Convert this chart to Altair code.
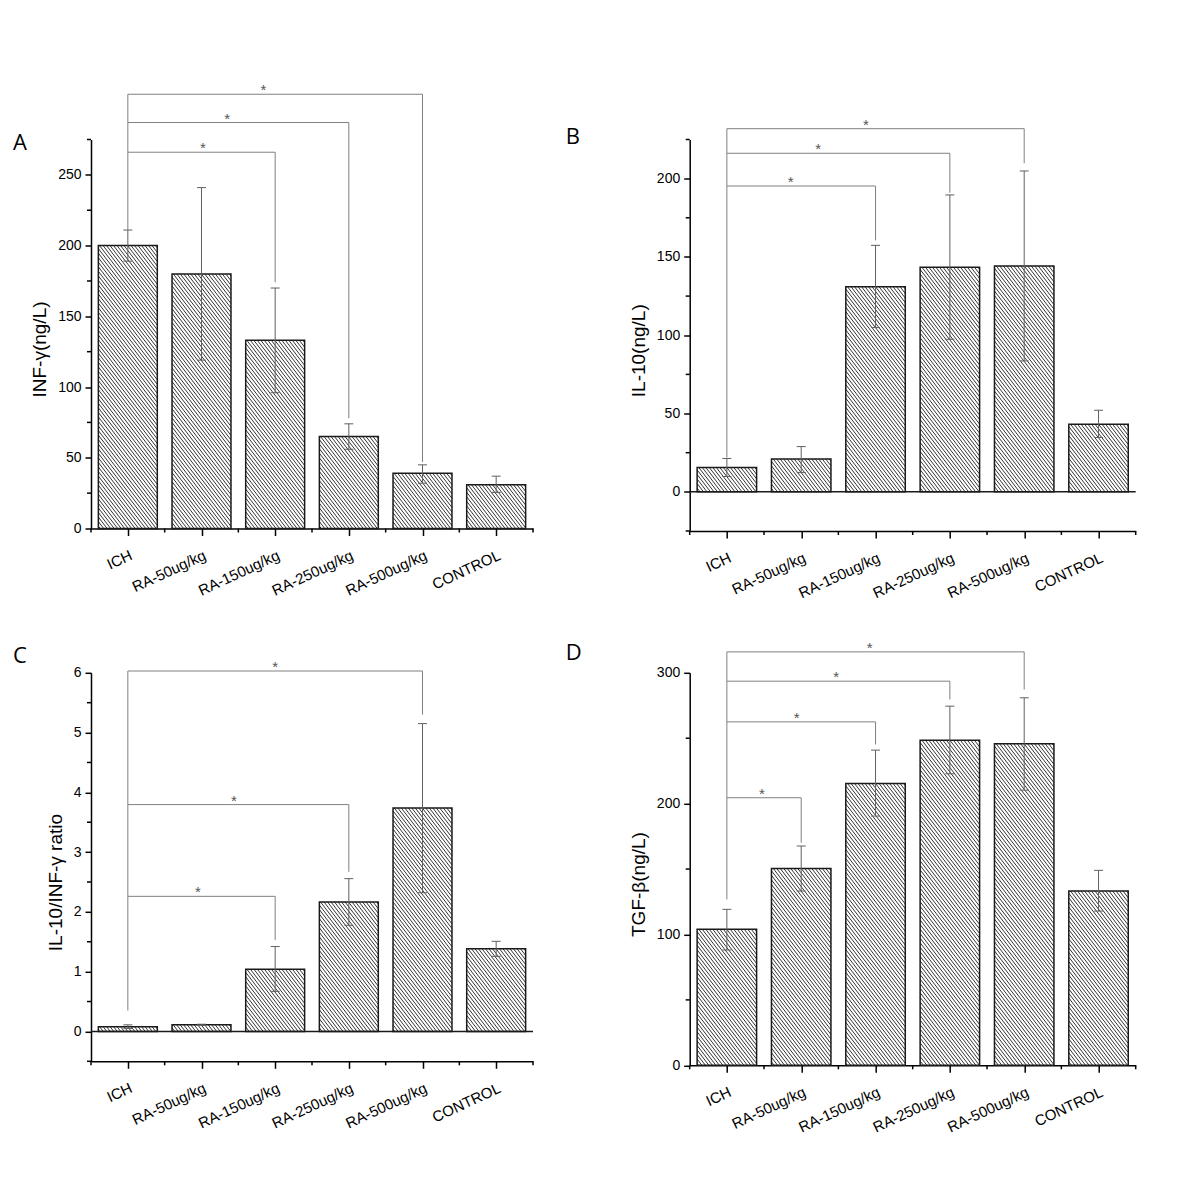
import json
import altair as alt
import pandas as pd

categories = ["ICH", "RA-50ug/kg", "RA-150ug/kg", "RA-250ug/kg", "RA-500ug/kg", "CONTROL"]

# Panel A: INF-gamma
a_mean = [200, 180, 133, 65, 39, 31]
a_hi = [211, 241, 170, 74, 45, 37]
a_lo = [189, 119, 96, 56, 32, 25.5]
a_targets = [2, 3, 4]
a_levels = [266, 287, 307]
a_ends = [174, 78, 47]
a_star_pos = [0.51, 0.45, 0.46]
a_start = 211

# Panel B: IL-10
b_mean = [15.5, 21, 131, 143.5, 144.3, 43.2]
b_hi = [21.3, 28.9, 157.4, 189.6, 204.9, 52.1]
b_lo = [9.8, 12.3, 104.9, 97.4, 83.6, 34.7]
b_targets = [2, 3, 4]
b_levels = [195.3, 216.2, 231.9]
b_ends = [160.6, 191, 209.8]
b_star_pos = [0.43, 0.41, 0.468]
b_start = 21.9

# Panel C: IL-10 / INF-gamma ratio
c_mean = [0.08, 0.11, 1.04, 2.165, 3.74, 1.385]
c_hi = [0.11, 0.12, 1.42, 2.556, 5.15, 1.507]
c_lo = [0.05, 0.10, 0.67, 1.775, 2.32, 1.256]
c_targets = [2, 3, 4]
c_levels = [2.26, 3.795, 6.03]
c_ends = [1.53, 2.67, 5.3]
c_star_pos = [0.476, 0.48, 0.5]
c_start = 0.35

# Panel D: TGF-beta
d_mean = [103.9, 150.5, 215.4, 248.5, 245.7, 133.2]
d_hi = [119.2, 167.6, 240.9, 274.5, 280.9, 149]
d_lo = [88.1, 133.2, 190.5, 222.8, 210.3, 117.9]
d_targets = [1, 2, 3, 4]
d_levels = [204.5, 262.5, 293.6, 316]
d_ends = [170.1, 245.2, 279.6, 287.2]
d_star_pos = [0.47, 0.47, 0.49, 0.48]
d_start = 126.8

FONT = "Liberation Sans"
HATCH_SX = 3.5   # horizontal hatch spacing (px)
HATCH_T = 1.3    # hatch slope


def make_panel(letter, title, mean, hi, lo, targets, levels, ends, star_pos, start,
               ymin, ymax, major, minor, w, h, zero_line, lx, ly):
    n = len(categories)
    bars = pd.DataFrame({"idx": list(range(n)), "cat": categories,
                         "mean": mean, "hi": hi, "lo": lo})
    xscale = alt.Scale(domain=[-0.5, n - 0.5], nice=False, zero=False)
    yscale = alt.Scale(domain=[ymin, ymax], nice=False, zero=False)
    label_expr = f"{json.dumps(categories)}[datum.value]"
    xaxis = alt.Axis(values=list(range(n)), labelExpr=label_expr, title=None,
                     labelAngle=335, tickSize=7, labelPadding=12, labelFontSize=15,
                     labelOverlap=False, labelBound=False, grid=False)
    yaxis = alt.Axis(values=major, title=title, titleY=h / 2 + 15, titlePadding=8,
                     tickSize=6, labelPadding=4, labelFontSize=14, labelOverlap=False,
                     grid=False)

    def X(f):
        return alt.X(f, scale=xscale, axis=xaxis)

    def Y(f):
        return alt.Y(f, scale=yscale, axis=yaxis)

    base = alt.Chart(bars).transform_calculate(x0="datum.idx - 0.4", x1="datum.idx + 0.4")
    PX = w / n
    PY = h / (ymax - ymin)
    W = 0.8 * PX
    t = HATCH_T
    d = HATCH_SX * t
    Wt = W * t

    hatch = (
        base.transform_calculate(H=f"datum.mean*{PY:.5f}")
        .transform_calculate(ks=f"sequence(0, ceil(({Wt:.4f} + datum.H)/{d:.4f}))")
        .transform_flatten(["ks"], as_=["k"])
        .transform_calculate(c=f"-{Wt:.4f} + (datum.k + 0.5)*{d:.4f}")
        .transform_calculate(u1=f"max(0, -datum.c/{t})")
        .transform_calculate(u2=f"min({W:.4f}, (datum.H - datum.c)/{t})")
        .transform_filter("datum.u2 > datum.u1")
        .transform_calculate(hx1=f"datum.idx - 0.4 + datum.u1/{PX:.5f}")
        .transform_calculate(hx2=f"datum.idx - 0.4 + datum.u2/{PX:.5f}")
        .transform_calculate(hy1=f"datum.mean - (datum.u1*{t} + datum.c)/{PY:.5f}")
        .transform_calculate(hy2=f"datum.mean - (datum.u2*{t} + datum.c)/{PY:.5f}")
        .mark_rule(color="#353535", strokeWidth=1)
        .encode(x=X("hx1:Q"), x2="hx2:Q", y=Y("hy1:Q"), y2="hy2:Q")
    )

    rects = (
        base.mark_rect(fillOpacity=0, stroke="#1a1a1a", strokeWidth=1.5)
        .encode(x=X("x0:Q"), x2="x1:Q", y=Y("mean:Q"), y2=alt.datum(0))
    )

    cap = 4.5 / PX
    err = base.mark_rule(color="#606060", strokeWidth=1).encode(
        x=X("idx:Q"), y=Y("lo:Q"), y2="hi:Q")
    caps = []
    for f in ["hi", "lo"]:
        caps.append(
            base.transform_calculate(c0=f"datum.idx - {cap:.4f}", c1=f"datum.idx + {cap:.4f}")
            .mark_rule(color="#606060", strokeWidth=1)
            .encode(x=X("c0:Q"), x2="c1:Q", y=Y(f"{f}:Q"))
        )

    segs = {"sx": [0], "sx2": [0], "sy": [start], "sy2": [max(levels)]}
    for tg, lv, en in zip(targets, levels, ends):
        segs["sx"] += [0, tg]
        segs["sx2"] += [tg, tg]
        segs["sy"] += [lv, en]
        segs["sy2"] += [lv, lv]
    brackets = alt.Chart(pd.DataFrame(segs)).mark_rule(color="#808080", strokeWidth=1).encode(
        x=X("sx:Q"), x2="sx2:Q", y=Y("sy:Q"), y2="sy2:Q")

    stars_df = pd.DataFrame({"px": [p * tg for p, tg in zip(star_pos, targets)],
                             "py": levels})
    stars = alt.Chart(stars_df).mark_text(text="*", font=FONT, fontSize=15, color="#555555",
                                          baseline="alphabetic", dy=1).encode(
        x=X("px:Q"), y=Y("py:Q"))

    minor_y = alt.Chart(pd.DataFrame({"m": minor})).mark_rule(color="black", strokeWidth=1.5).encode(
        y=Y("m:Q"), x=alt.value(-4), x2=alt.value(0))
    bounds_df = pd.DataFrame({"b": [i - 0.5 for i in range(n + 1)]})
    minor_x = alt.Chart(bounds_df).mark_rule(color="black", strokeWidth=1.5).encode(
        x=X("b:Q"), y=alt.value(h), y2=alt.value(h + 4))

    letter_mark = alt.Chart(pd.DataFrame({"t": [letter]})).mark_text(
        align="left", baseline="alphabetic", font="Open Sans", fontSize=22, color="black").encode(
        text="t:N", x=alt.value(lx), y=alt.value(ly))

    layers = [hatch, rects, err] + caps + [brackets, stars, minor_y, minor_x, letter_mark]
    if zero_line:
        zero = alt.Chart(pd.DataFrame({"z": [0]})).mark_rule(color="#1a1a1a", strokeWidth=1.5).encode(
            y=Y("z:Q"), x=alt.value(0), x2=alt.value(w))
        layers.append(zero)
    return alt.layer(*layers).properties(width=w, height=h)


pA = make_panel("A", "INF-γ(ng/L)", a_mean, a_hi, a_lo, a_targets, a_levels, a_ends,
                a_star_pos, a_start, 0, 275, [0, 50, 100, 150, 200, 250],
                [25, 75, 125, 175, 225, 275], 442, 389, False, -78, 10)
pB = make_panel("B", "IL-10(ng/L)", b_mean, b_hi, b_lo, b_targets, b_levels, b_ends,
                b_star_pos, b_start, -25, 225, [0, 50, 100, 150, 200],
                [-25, 25, 75, 125, 175, 225], 446, 391.5, True, -124, 4)
pC = make_panel("C", "IL-10/INF-γ ratio", c_mean, c_hi, c_lo, c_targets, c_levels, c_ends,
                c_star_pos, c_start, -0.5, 6, [0, 1, 2, 3, 4, 5, 6],
                [-0.5, 0.5, 1.5, 2.5, 3.5, 4.5, 5.5], 442, 388.5, True, -78, -10)
pD = make_panel("D", "TGF-β(ng/L)", d_mean, d_hi, d_lo, d_targets, d_levels, d_ends,
                d_star_pos, d_start, 0, 300, [0, 100, 200, 300],
                [50, 150, 250], 446, 392.5, False, -124, -13)

chart = (
    alt.concat(pA, pB, pC, pD, columns=2, spacing={"row": 141.3, "column": 156.7}, bounds="flush")
    .configure_view(stroke=None)
    .configure_axis(domainColor="black", domainWidth=1.5, tickColor="black", tickWidth=1.5,
                    labelColor="black", titleColor="black", labelFont=FONT, titleFont=FONT,
                    titleFontWeight="normal", titleFontSize=19)
    .properties(background="white", padding={"top": 74.5, "left": 5, "right": 5, "bottom": 5})
)

chart.save("out.html", embed_options={"renderer": "svg", "actions": False})
